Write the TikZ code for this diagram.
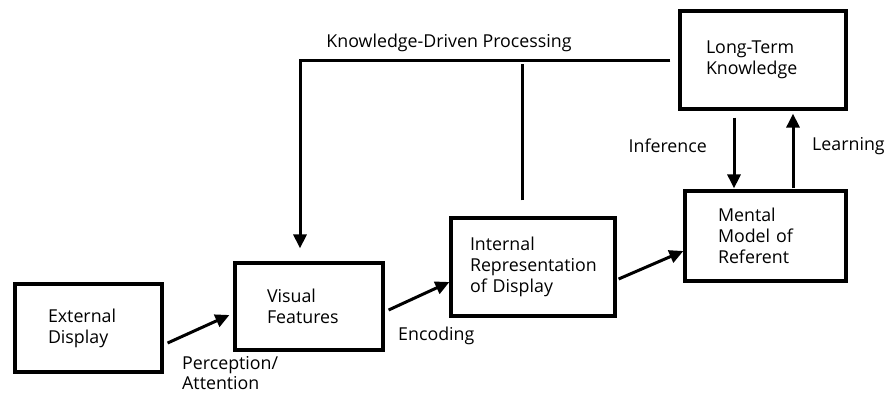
\documentclass[tikz,border=0pt]{standalone}
\usepackage{fontspec}
\setmainfont{Open Sans}
\usetikzlibrary{arrows.meta}
\begin{document}
\begin{tikzpicture}[x=1pt,y=-1pt,
  box/.style={draw, line width=3.2pt, align=left, inner sep=0pt, font=\fontsize{17.8}{21}\selectfont},
  lbl/.style={inner sep=0pt, align=left, font=\fontsize{17.8}{20}\selectfont},
  arr/.style={line width=3pt, -{Triangle[width=13pt,length=14pt]}},
  ln/.style={line width=3pt}]
\useasboundingbox (0,0) rectangle (885,394);
\node[box, minimum width=147, minimum height=88, text width=81] (ext) at (88.5,328) {External\\Display};
\node[box, minimum width=148, minimum height=87, text width=84] (vis) at (309,306.5) {Visual\\Features};
\node[box, minimum width=164, minimum height=98, text width=126] (irep) at (533,267) {Internal\\Representation\\of Display};
\node[box, minimum width=161, minimum height=90, text width=95] (mm) at (765.5,236) {Mental\\Model of\\Referent};
\node[box, minimum width=166, minimum height=98, text width=114] (ltk) at (763,60) {Long-Term\\Knowledge};
\node[lbl] (kdp) at (449,43) {Knowledge-Driven Processing};
\node[lbl, anchor=east] (inf) at (707,146) {Inference};
\node[lbl, anchor=west] (lrn) at (812,146) {Learning};
\node[lbl, anchor=north west] (pa) at (182,356) {Perception/\\Attention};
\node[lbl, anchor=west] (enc) at (398,336) {Encoding};
\draw[arr] ([shift={(4,15)}]ext.east) -- ([shift={(-4,8.5)}]vis.west);
\draw[arr] ([shift={(4,3.5)}]vis.east) -- ([shift={(0,15)}]irep.west);
\draw[arr] ([shift={(2,12)}]irep.east) -- ([shift={(0,15)}]mm.west);
\draw[arr] ([shift={(-29,7)}]ltk.south) -- ([shift={(-31.5,-1)}]mm.north);
\draw[arr] ([shift={(27.5,-1)}]mm.north) -- ([shift={(30,3)}]ltk.south);
\draw[arr] ([xshift=-8]ltk.west) -| ([shift={(-9,-13)}]vis.north);
\draw[ln] ([shift={(-11,-16)}]irep.north) -- ++(0,-136);
\end{tikzpicture}
\end{document}
